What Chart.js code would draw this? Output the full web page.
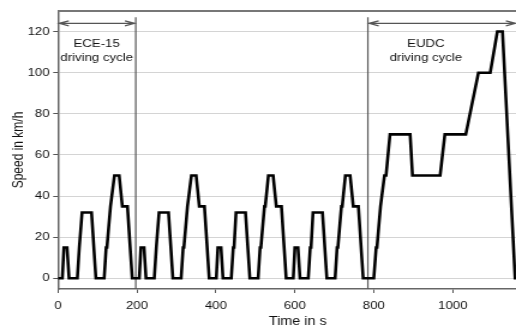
<!DOCTYPE html>
<html>
<head>
<meta charset="utf-8">
<script src="https://cdn.jsdelivr.net/npm/chart.js@4/dist/chart.umd.min.js"></script>
<style>
html, body { margin: 0; padding: 0; background: #fff; overflow: hidden; width: 516px; height: 329px; }
#wrap { position: absolute; left: 0; top: 0; width: 448px; height: 329px; transform: scaleX(1.2); transform-origin: 0 0; }
</style>
</head>
<body>
<div id="wrap"><canvas id="chart" width="448" height="329"></canvas></div>
<script>
// NEDC speed profile: time (s) and speed (km/h)
const timeS = [
    0, 11, 15, 23, 28, 49, 54, 56, 61, 85, 96, 117, 122, 124, 133, 135, 143, 155, 163, 176, 188, 195,
    206, 210, 218, 223, 244, 249, 251, 256, 280, 291, 312, 317, 319, 328, 330, 338, 350, 358, 371, 383, 390,
    401, 405, 413, 418, 439, 444, 446, 451, 475, 486, 507, 512, 514, 523, 525, 533, 545, 553, 566, 578, 585,
    596, 600, 608, 613, 634, 639, 641, 646, 670, 681, 702, 707, 709, 718, 720, 728, 740, 748, 761, 773, 780,
    800, 806, 808, 817, 819, 827, 831, 841, 892, 898, 968, 980, 1033, 1065, 1095, 1113, 1126, 1158, 1180
];
const speedKmh = [
    0, 0, 15, 15, 0, 0, 15, 15, 32, 32, 0, 0, 15, 15, 35, 35, 50, 50, 35, 35, 0, 0,
    0, 15, 15, 0, 0, 15, 15, 32, 32, 0, 0, 15, 15, 35, 35, 50, 50, 35, 35, 0, 0,
    0, 15, 15, 0, 0, 15, 15, 32, 32, 0, 0, 15, 15, 35, 35, 50, 50, 35, 35, 0, 0,
    0, 15, 15, 0, 0, 15, 15, 32, 32, 0, 0, 15, 15, 35, 35, 50, 50, 35, 35, 0, 0,
    0, 15, 15, 35, 35, 50, 50, 70, 70, 50, 50, 70, 70, 100, 100, 120, 120, 0, 0
];

const xTicks = [0, 200, 400, 600, 800, 1000];
const yTicks = [0, 20, 40, 60, 80, 100, 120];

// the two phases marked above the curve
const phaseNames = [['ECE-15', 'driving cycle'], ['EUDC', 'driving cycle']];
const phaseStart = [0, 785];
const phaseEnd = [197, 1162];
const phaseLabelX = [98, 932];
const dividerAt = [197, 785];

const FONT = "'Liberation Sans', Arial, sans-serif";

const phasePlugin = {
    id: 'phases',
    beforeDatasetsDraw(chart) {
        const { ctx, chartArea, scales: { x, y } } = chart;
        ctx.save();

        // frame line on top
        ctx.strokeStyle = '#777';
        ctx.lineWidth = 2;
        ctx.beginPath();
        ctx.moveTo(chartArea.left, chartArea.top);
        ctx.lineTo(chartArea.right, chartArea.top);
        ctx.stroke();

        // phase dividers
        ctx.strokeStyle = '#555';
        ctx.lineWidth = 1.2;
        dividerAt.forEach(t => {
            const px = x.getPixelForValue(t);
            ctx.beginPath();
            ctx.moveTo(px, y.getPixelForValue(127));
            ctx.lineTo(px, chartArea.bottom);
            ctx.stroke();
        });

        // double arrows
        const ay = y.getPixelForValue(124);
        ctx.lineWidth = 1.2;
        phaseStart.forEach((s, i) => {
            const x1 = x.getPixelForValue(s) + 1;
            const x2 = x.getPixelForValue(phaseEnd[i]) - 1;
            ctx.beginPath();
            ctx.moveTo(x1, ay);
            ctx.lineTo(x2, ay);
            ctx.moveTo(x1 + 8, ay - 2.5);
            ctx.lineTo(x1, ay);
            ctx.lineTo(x1 + 8, ay + 2.5);
            ctx.moveTo(x2 - 8, ay - 2.5);
            ctx.lineTo(x2, ay);
            ctx.lineTo(x2 - 8, ay + 2.5);
            ctx.stroke();
        });

        // phase labels
        ctx.fillStyle = '#111';
        ctx.font = '11px ' + FONT;
        ctx.textAlign = 'center';
        ctx.textBaseline = 'middle';
        phaseNames.forEach((lines, i) => {
            const px = x.getPixelForValue(phaseLabelX[i]);
            ctx.fillText(lines[0], px, y.getPixelForValue(114));
            ctx.fillText(lines[1], px, y.getPixelForValue(107.2));
        });

        ctx.restore();
    }
};

new Chart(document.getElementById('chart'), {
    type: 'line',
    data: {
        datasets: [{
            data: timeS.map((t, i) => ({ x: t, y: speedKmh[i] })),
            borderColor: '#000',
            borderWidth: 2.6,
            pointRadius: 0,
            tension: 0,
            fill: false
        }]
    },
    options: {
        responsive: false,
        animation: false,
        layout: { padding: { left: 0, right: 0, top: 11, bottom: 0 } },
        plugins: {
            legend: { display: false },
            tooltip: { enabled: false }
        },
        scales: {
            x: {
                type: 'linear',
                min: 0,
                max: 1215,
                afterBuildTicks: s => { s.ticks = xTicks.map(v => ({ value: v })); },
                afterFit: s => { s.height = 40; },
                grid: { drawOnChartArea: false, drawTicks: true, tickLength: 4, tickColor: '#555' },
                border: { color: '#666', width: 1.5 },
                ticks: { font: { family: FONT, size: 11 }, color: '#111', padding: 6, maxRotation: 0, callback: v => String(v) },
                title: { display: true, text: 'Time in s', font: { family: FONT, size: 12 }, color: '#111', padding: { top: 0, bottom: 0 } }
            },
            y: {
                min: -5.2,
                max: 130,
                afterBuildTicks: s => { s.ticks = yTicks.map(v => ({ value: v })); },
                afterFit: s => { s.width = 48.3; },
                grid: { color: '#d4d4d4', tickColor: '#555', tickLength: 4, lineWidth: 1 },
                border: { color: '#666', width: 1.5 },
                ticks: { font: { family: FONT, size: 11 }, color: '#111', padding: 3, callback: v => String(v) },
                title: { display: true, text: 'Speed in km/h', font: { family: FONT, size: 12 }, color: '#111', padding: { top: 8, bottom: 0 } }
            }
        }
    },
    plugins: [phasePlugin]
});
</script>
</body>
</html>
